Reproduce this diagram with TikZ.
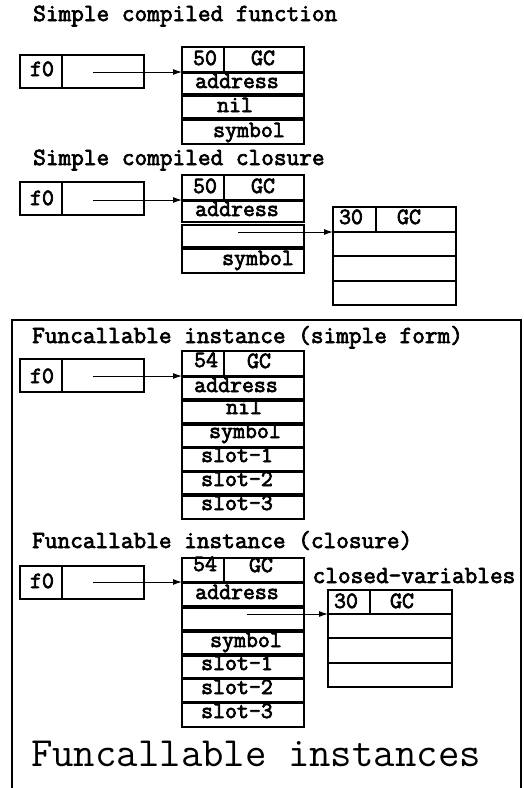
\documentclass[tikz,border=0pt]{standalone}
\usetikzlibrary{arrows.meta}
\tikzset{
 cell/.style={draw, line width=1.1pt, inner sep=0pt, outer sep=0pt},
 heavy/.style={execute at begin node={\special{pdf:literal direct 2 Tr 0.7 w}}, execute at end node={\special{pdf:literal direct 0 Tr}}},
 lbl/.style={anchor=base, inner sep=0pt, heavy, font=\fontsize{23.2}{27}\ttfamily\selectfont},
 ttl/.style={anchor=base west, inner sep=0pt, heavy, font=\fontsize{24.6}{28}\ttfamily\selectfont},
 bigttl/.style={anchor=base, inner sep=0pt, font=\fontsize{41.6}{46}\selectfont\ttfamily},
 arr/.style={line width=1pt, -{Latex[length=9pt,width=6pt]}},
 frame/.style={line width=1.3pt},
}
\newcommand\boxrow[5]{\node[cell, minimum width={(#4-#2)*1pt}, minimum height={(#5-#3)*1pt}] (#1) at ({(#2+#4)/2},{(#3+#5)/2}) {};}
\begin{document}
\begin{tikzpicture}[x=1pt,y=-1pt]
\useasboundingbox (0,0) rectangle (524,788);
% ---------- Section 1
\node[ttl] (t1) at (33,21) {Simple compiled function};
\boxrow{fa1}{20}{55}{62}{88}
\boxrow{fb1}{62}{55}{144}{88}
\node[lbl] (f1) at (42,76) {f0};
\boxrow{ha1}{182}{47}{224}{72}
\boxrow{hb1}{224}{47}{304}{72}
\node[lbl] (n1) at (205,65) {50};
\node[lbl] (g1) at (263,65) {GC};
\boxrow{ra1}{182}{73}{304}{94}
\node[lbl] (la1) at (237,88) {address};
\boxrow{rb1}{182}{96}{304}{118}
\node[lbl] (lb1) at (235,112) {nil};
\boxrow{rc1}{182}{120}{304}{144}
\node[lbl] (lc1) at (249,137) {symbol};
\coordinate (s1) at (93,72);
\draw[arr] (s1) -- (s1 -| ha1.west);
% ---------- Section 2
\node[ttl] (t2) at (33,165) {Simple compiled closure};
\boxrow{fa2}{20}{182}{62}{215}
\boxrow{fb2}{62}{182}{144}{215}
\node[lbl] (f2) at (42,205) {f0};
\boxrow{ha2}{182}{175}{224}{200}
\boxrow{hb2}{224}{175}{304}{200}
\node[lbl] (n2) at (205,193) {50};
\node[lbl] (g2) at (263,193) {GC};
\boxrow{ra2}{182}{201}{304}{222}
\node[lbl] (la2) at (237,216) {address};
\boxrow{rb2}{182}{225}{304}{247}
\boxrow{rc2}{182}{249}{304}{273}
\node[lbl] (lc2) at (258,265) {symbol};
\boxrow{c2a}{333}{207}{376}{232}
\boxrow{c2b}{376}{207}{456}{232}
\node[lbl] (m2) at (351,224) {30};
\node[lbl] (k2) at (409,224) {GC};
\boxrow{c2r1}{333}{232}{456}{256}
\boxrow{c2r2}{333}{256}{456}{281}
\boxrow{c2r3}{333}{281}{456}{305}
\coordinate (s2) at (93,200);
\draw[arr] (s2) -- (s2 -| ha2.west);
\coordinate (q2) at (238,232);
\draw[arr] (q2) -- (q2 -| c2a.west);
% ---------- Frame
\draw[frame] (12,790) -- (12,320) -- (521,320) -- (521,790);
% ---------- Section 3
\node[ttl] (t3) at (32,343) {Funcallable instance (simple form)};
\boxrow{fa3}{20}{359}{62}{392}
\boxrow{fb3}{62}{359}{144}{392}
\node[lbl] (f3) at (42,383) {f0};
\boxrow{ha3}{182}{351}{224}{376}
\boxrow{hb3}{224}{351}{304}{376}
\node[lbl] (n3) at (206,367) {54};
\node[lbl] (g3) at (259,368) {GC};
\boxrow{ra3}{182}{377}{304}{399}
\node[lbl] (la3) at (236,392) {address};
\boxrow{rb3}{182}{401}{304}{423}
\node[lbl] (lb3) at (244,414) {nil};
\boxrow{rc3}{182}{425}{304}{447}
\node[lbl] (lc3) at (245,438) {symbol};
\boxrow{rd3}{182}{448}{304}{471}
\node[lbl] (ld3) at (237,462) {slot-1};
\boxrow{re3}{182}{472}{304}{494}
\node[lbl] (le3) at (237,486) {slot-2};
\boxrow{rf3}{182}{496}{304}{519}
\node[lbl] (lf3) at (237,510) {slot-3};
\coordinate (s3) at (93,376);
\draw[arr] (s3) -- (s3 -| ha3.west);
% ---------- Section 4
\node[ttl] (t4) at (32,548) {Funcallable instance (closure)};
\boxrow{fa4}{20}{566}{62}{599}
\boxrow{fb4}{62}{566}{144}{599}
\node[lbl] (f4) at (42,588) {f0};
\boxrow{ha4}{182}{558}{224}{582}
\boxrow{hb4}{224}{558}{304}{582}
\node[lbl] (n4) at (205,571) {54};
\node[lbl] (g4) at (261,572) {GC};
\boxrow{ra4}{182}{583}{304}{606}
\node[lbl] (la4) at (237,599) {address};
\boxrow{rb4}{182}{608}{304}{630}
\boxrow{rc4}{182}{632}{304}{654}
\node[lbl] (lc4) at (246,647) {symbol};
\boxrow{rd4}{182}{656}{304}{678}
\node[lbl] (ld4) at (237,670) {slot-1};
\boxrow{re4}{182}{679}{304}{702}
\node[lbl] (le4) at (237,694) {slot-2};
\boxrow{rf4}{182}{703}{304}{727}
\node[lbl] (lf4) at (237,718) {slot-3};
\node[lbl, font=\fontsize{24.6}{28}\ttfamily\selectfont] (cv4) at (414,583) {closed-variables};
\boxrow{c4a}{328}{590}{370}{614}
\boxrow{c4b}{370}{590}{452}{614}
\node[lbl] (m4) at (346,608) {30};
\node[lbl] (k4) at (402,608) {GC};
\boxrow{c4r1}{328}{614}{452}{638}
\boxrow{c4r2}{328}{638}{452}{663}
\boxrow{c4r3}{328}{663}{452}{687}
\coordinate (s4) at (93,582);
\draw[arr] (s4) -- (s4 -| ha4.west);
\coordinate (q4) at (247,614);
\draw[arr] (q4) -- (q4 -| c4a.west);
\node[bigttl] (big) at (256,766) {Funcallable instances};
\end{tikzpicture}
\end{document}
